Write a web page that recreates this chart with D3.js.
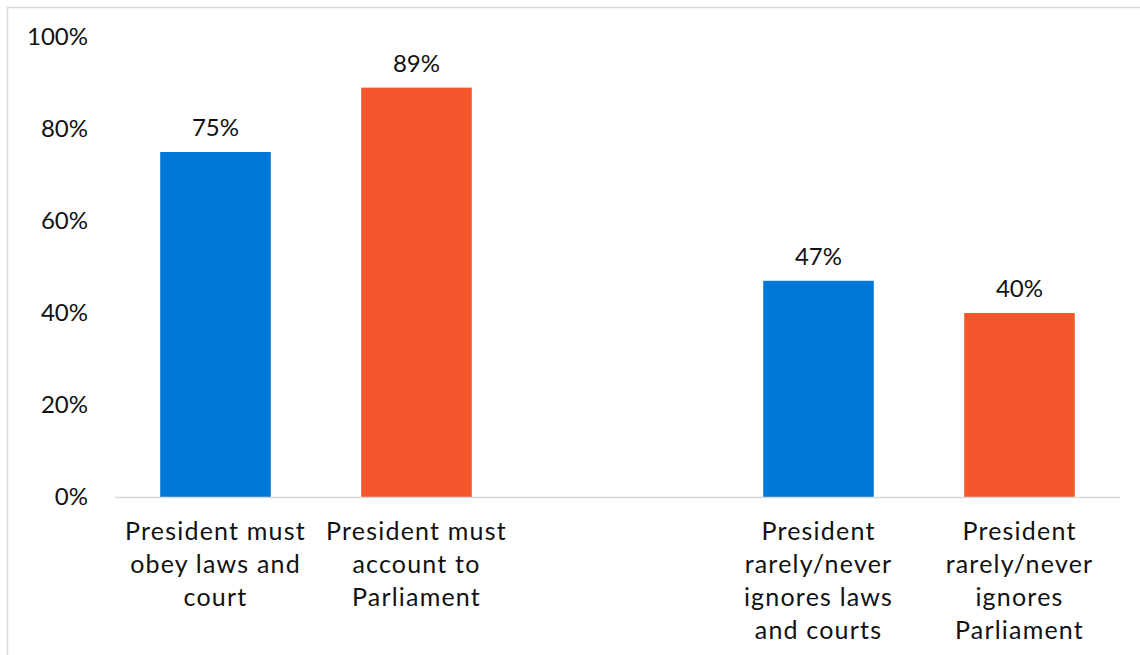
<!DOCTYPE html>
<html>
<head>
<style>
  body { margin: 0; background: #fff; }
  text { font-family: "Lato", "DejaVu Sans", sans-serif; fill: #111; }
</style>
<script src="https://d3js.org/d3.v7.min.js"></script>
</head>
<body>
<script>
const categories = ["obey", "account", "gap", "ignoreLaws", "ignoreParl"];
const labels = [
  ["President must", "obey laws and", "court"],
  ["President must", "account to", "Parliament"],
  [],
  ["President", "rarely/never", "ignores laws", "and courts"],
  ["President", "rarely/never", "ignores", "Parliament"]
];
const values = [75, 89, null, 47, 40];
const colors = ["#0078d7", "#f4572b", null, "#0078d7", "#f4572b"];
const yTicks = [0, 20, 40, 60, 80, 100];

const w = 1140, h = 655;
const margin = {left: 115, right: 20, top: 37, bottom: 158};

const svg = d3.select("body").append("svg").attr("width", w).attr("height", h);

// frame
svg.append("rect")
  .attr("x", 7.5).attr("y", 7.5)
  .attr("width", w + 20).attr("height", h + 20)
  .attr("fill", "none").attr("stroke", "#d9d9d9").attr("stroke-width", 1.5);

const x = d3.scaleBand().domain(categories)
  .range([margin.left, w - margin.right]).paddingInner(0.45).paddingOuter(0.225);
const y = d3.scaleLinear().domain([0, 100]).range([h - margin.bottom, margin.top]);

// y tick labels
svg.append("g").selectAll("text").data(yTicks).enter().append("text")
  .attr("x", 88).attr("y", d => y(d) - 2)
  .attr("text-anchor", "end").attr("dominant-baseline", "central")
  .style("font-size", "24px")
  .text(d => d + "%");

const data = categories.map((c, i) => ({c, v: values[i], col: colors[i], lab: labels[i]}));

svg.append("g").selectAll("rect").data(data.filter(d => d.v != null)).enter().append("rect")
  .attr("x", d => x(d.c)).attr("width", x.bandwidth())
  .attr("y", d => y(d.v)).attr("height", d => y(0) - y(d.v))
  .attr("fill", d => d.col);

svg.append("g").selectAll("text").data(data.filter(d => d.v != null)).enter().append("text")
  .attr("x", d => x(d.c) + x.bandwidth() / 2).attr("y", d => y(d.v) - 16)
  .attr("text-anchor", "middle")
  .style("font-size", "24px")
  .text(d => d.v + "%");

// baseline
svg.append("line")
  .attr("x1", margin.left).attr("x2", w - margin.right)
  .attr("y1", y(0) + 0.5).attr("y2", y(0) + 0.5)
  .attr("stroke", "#d9d9d9").attr("stroke-width", 1.5);

// category labels
const catG = svg.append("g").selectAll("text").data(data).enter().append("text")
  .attr("text-anchor", "middle")
  .style("font-size", "25px")
  .style("letter-spacing", "1.2px");
catG.selectAll("tspan").data(d => d.lab.map(l => ({l, cx: x(d.c) + x.bandwidth() / 2})))
  .enter().append("tspan")
  .attr("x", d => d.cx)
  .attr("y", (d, i) => y(0) + 43 + i * 33)
  .text(d => d.l);
</script>
</body>
</html>
